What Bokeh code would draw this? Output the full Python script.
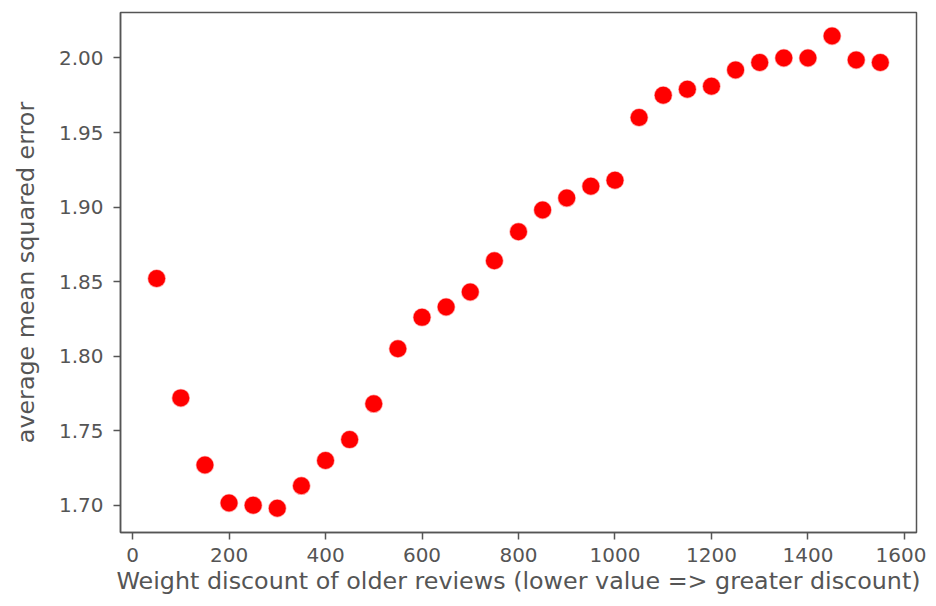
from bokeh.plotting import figure
from bokeh.models import FixedTicker, PrintfTickFormatter, Range1d
from bokeh.embed import file_html
from bokeh.resources import INLINE

weights = [50, 100, 150, 200, 250, 300, 350, 400, 450, 500, 550, 600, 650, 700, 750,
           800, 850, 900, 950, 1000, 1050, 1100, 1150, 1200, 1250, 1300, 1350, 1400,
           1450, 1500, 1550]
mse = [1.852, 1.772, 1.727, 1.7015, 1.700, 1.698, 1.713, 1.730, 1.744, 1.768, 1.805,
       1.826, 1.833, 1.843, 1.864, 1.8835, 1.898, 1.906, 1.914, 1.918, 1.960, 1.975,
       1.979, 1.981, 1.992, 1.997, 2.000, 2.000, 2.0147, 1.9987, 1.997]
x_ticks = [0, 200, 400, 600, 800, 1000, 1200, 1400, 1600]
y_ticks = [1.70, 1.75, 1.80, 1.85, 1.90, 1.95, 2.00]

GREY = "#555555"
FONT = "DejaVu Sans"

p = figure(width=926, height=600, output_backend="svg", toolbar_location=None,
           x_range=Range1d(-25, 1625), y_range=Range1d(1.6817, 2.0305),
           min_border_left=120, min_border_right=10, min_border_top=12, min_border_bottom=68)

p.scatter(weights, mse, size=17, fill_color="#ff0000", line_color="#ff0000",
          line_alpha=0.35, line_width=1.5)

p.xgrid.visible = False
p.ygrid.visible = False
p.outline_line_color = GREY
p.outline_line_width = 1.5
p.background_fill_color = "white"
p.border_fill_color = "white"

p.xaxis.ticker = FixedTicker(ticks=x_ticks)
p.yaxis.ticker = FixedTicker(ticks=y_ticks)
p.yaxis.formatter = PrintfTickFormatter(format="%.2f")
p.xaxis.axis_label = "Weight discount of older reviews (lower value => greater discount)"
p.yaxis.axis_label = "average mean squared error"

for ax in (p.xaxis, p.yaxis):
    ax.axis_line_color = GREY
    ax.axis_line_width = 1.5
    ax.major_tick_line_color = GREY
    ax.major_tick_line_width = 1.5
    ax.major_tick_out = 7
    ax.major_tick_in = 0
    ax.minor_tick_line_color = None
    ax.major_label_text_font = FONT
    ax.major_label_text_font_size = "20px"
    ax.major_label_text_color = GREY
    ax.axis_label_text_font = FONT
    ax.axis_label_text_font_size = "23.8px"
    ax.axis_label_text_font_style = "normal"
    ax.axis_label_text_color = GREY

p.xaxis.major_label_standoff = 8
p.xaxis.axis_label_standoff = 2
p.yaxis.major_label_standoff = 10
p.yaxis.axis_label_standoff = 16

open("out.html", "w").write(file_html(p, INLINE))
